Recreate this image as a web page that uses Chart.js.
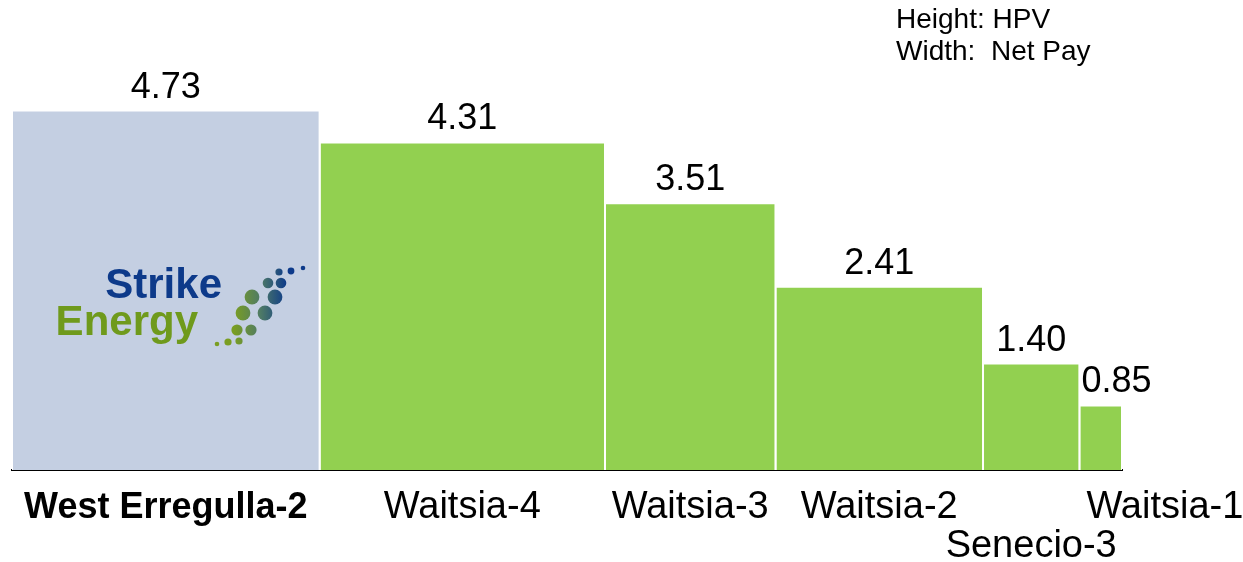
<!DOCTYPE html>
<html>
<head>
<meta charset="utf-8">
<script src="https://cdn.jsdelivr.net/npm/chart.js@4.4.0/dist/chart.umd.min.js"></script>
<style>
  html, body { margin: 0; padding: 0; background: #fff; }
  #wrap { width: 1243px; height: 562px; }
</style>
</head>
<body>
<div id="wrap"><canvas id="chart"></canvas></div>
<script>
// wells, bar height = HPV, bar width = net pay
const wells = ['West Erregulla-2', 'Waitsia-4', 'Waitsia-3', 'Waitsia-2', 'Senecio-3', 'Waitsia-1'];
const hpv = [4.73, 4.31, 3.51, 2.41, 1.40, 0.85];
const netPay = [83, 77, 46, 56, 26, 11.5];
const barColors = ['#C4CFE2', '#92D050', '#92D050', '#92D050', '#92D050', '#92D050'];
const notes = ['Height: HPV', 'Width:  Net Pay'];

const FONT = '"Liberation Sans", Arial, sans-serif';

// left edge of each bar along the net pay axis
const starts = [];
netPay.reduce((acc, w) => { starts.push(acc); return acc + w; }, 0);
const totalPay = netPay.reduce((a, b) => a + b, 0);

// each bar is a filled outline: up, across, down
const datasets = wells.map((w, i) => ({
    label: w,
    data: [
        { x: starts[i], y: 0 },
        { x: starts[i], y: hpv[i] },
        { x: starts[i] + netPay[i], y: hpv[i] },
        { x: starts[i] + netPay[i], y: 0 }
    ],
    fill: 'origin',
    backgroundColor: barColors[i],
    borderColor: '#ffffff',
    borderWidth: 2,
    pointRadius: 0,
    tension: 0
}));

// value labels, well names, notes and the logo
const labelPlugin = {
    id: 'labelPlugin',
    afterDatasetsDraw(chart) {
        const { ctx, scales: { x, y } } = chart;
        ctx.save();
        ctx.fillStyle = '#000';
        ctx.textAlign = 'left';
        ctx.textBaseline = 'alphabetic';

        let prevRight = -Infinity;
        wells.forEach((name, i) => {
            const x0 = x.getPixelForValue(starts[i]);
            const x1 = x.getPixelForValue(starts[i] + netPay[i]);
            const top = y.getPixelForValue(hpv[i]);
            const isLast = i === wells.length - 1;

            ctx.font = '36px ' + FONT;
            const val = hpv[i].toFixed(2);
            const vw = ctx.measureText(val).width;
            ctx.fillText(val, isLast ? x0 + 2 : (x0 + x1) / 2 - vw / 2, top - 13);

            ctx.font = (i === 0 ? 'bold 36px ' : '38px ') + FONT;
            const cw = ctx.measureText(name).width;
            const cx = isLast ? x0 + 7 : (x0 + x1) / 2 - cw / 2;
            let row = 0;
            if (!isLast && cx < prevRight + 8) row = 1;
            else prevRight = cx + cw;
            ctx.fillText(name, cx, y.bottom + 48 + row * 39);
        });

        ctx.font = '28px ' + FONT;
        notes.forEach((t, i) => ctx.fillText(t, 896, 28 + i * 32));

        // Strike Energy logo inside the first bar
        const lx = x.getPixelForValue(0);
        ctx.textAlign = 'right';
        ctx.font = 'bold 42px ' + FONT;
        ctx.fillStyle = '#0D3A8A';
        ctx.fillText('Strike', lx + 210, 298);
        ctx.fillStyle = '#6F9A1C';
        ctx.fillText('Energy', lx + 186, 335);

        const grad = ctx.createLinearGradient(lx + 222, 0, lx + 275, 0);
        grad.addColorStop(0, '#7A9E22');
        grad.addColorStop(0.5, '#4E7A66');
        grad.addColorStop(1, '#0D3A8A');
        ctx.fillStyle = grad;
        const dots = [
            [291, 268, 2.3], [279, 271, 3.4], [267, 272, 3.6], [256, 283, 5.3], [269, 283, 5.3],
            [240, 297, 7.4], [263, 297, 7.4], [231, 313, 7.4], [253, 313, 7.4],
            [225, 330, 5.6], [239, 330, 5.6], [205, 344, 2.3], [216, 342, 3.6], [227, 341, 3.6]
        ];
        dots.forEach(([dx, dy, r]) => {
            ctx.beginPath();
            ctx.arc(lx + dx, dy, r, 0, Math.PI * 2);
            ctx.fill();
        });
        ctx.restore();
    }
};

new Chart(document.getElementById('chart').getContext('2d'), {
    type: 'line',
    data: { datasets },
    options: {
        responsive: true,
        maintainAspectRatio: false,
        animation: false,
        layout: { padding: { left: 12, right: 121, top: 90, bottom: 92 } },
        scales: {
            x: {
                type: 'linear',
                min: 0,
                max: totalPay,
                ticks: { display: false },
                grid: { display: false, drawTicks: false },
                border: { display: true, color: '#000', width: 2 }
            },
            y: {
                display: false,
                min: 0,
                max: 5
            }
        },
        plugins: {
            legend: { display: false },
            tooltip: { enabled: false }
        }
    },
    plugins: [labelPlugin]
});
</script>
</body>
</html>
